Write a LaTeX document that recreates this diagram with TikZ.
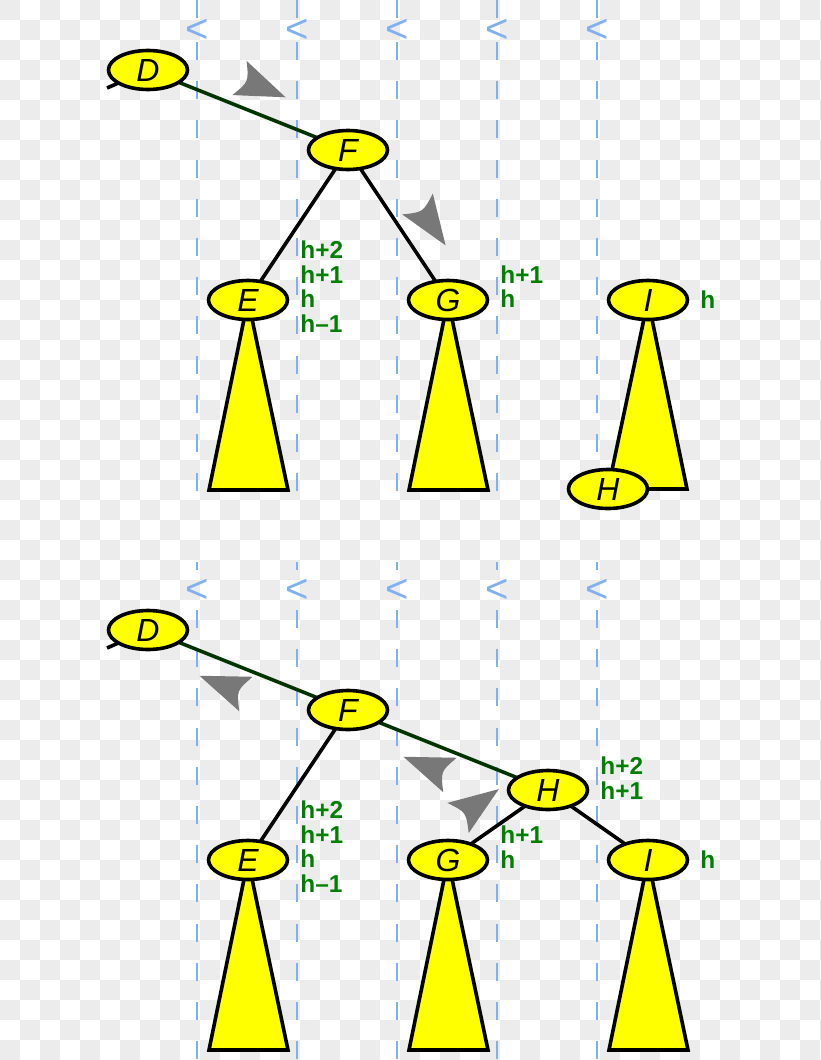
\documentclass[tikz,border=0pt]{standalone}
\usepackage{fontspec}
\setmainfont{Liberation Sans}
\usetikzlibrary{shapes.geometric}
\definecolor{chk}{RGB}{236,236,236}
\definecolor{dashblue}{RGB}{128,176,240}
\definecolor{treeyellow}{RGB}{255,255,0}
\definecolor{edgegreen}{RGB}{0,51,0}
\definecolor{labgreen}{RGB}{0,128,0}
\definecolor{arrowgray}{RGB}{120,120,120}
\pgfdeclarelayer{bg}
\pgfsetlayers{bg,main}
\tikzset{
 vnode/.style={ellipse, draw=black, fill=treeyellow, line width=1.8pt, minimum width=39.5pt, minimum height=19.5pt, inner sep=0pt, font=\fontsize{16}{16}\selectfont\itshape},
 subtree/.style={draw=black, fill=treeyellow, line width=1.8pt, line join=miter},
 blackedge/.style={draw=black, line width=1.8pt},
 greenedge/.style={draw=edgegreen, line width=1.8pt},
 guide/.style={draw=dashblue, line width=1pt, dash pattern=on 9pt off 10.6pt},
 guidesolid/.style={draw=dashblue, line width=1pt},
 ltmark/.style={text=dashblue, font=\fontsize{20}{20}\selectfont, inner sep=0pt},
 hlab/.style={text=labgreen, font=\fontsize{12.2}{12}\selectfont\bfseries, anchor=base west, inner sep=0pt},
 rotmark/.style={fill=arrowgray},
}
\newcommand{\rotmarker}[3]{\fill[rotmark, shift={(#1,#2)}, rotate=#3] (50,0) -- (0,18.5) .. controls (10,0) .. (0,-18.5) -- cycle;}
\begin{document}
\begin{tikzpicture}[x=0.5pt,y=-0.5pt]
\useasboundingbox (0,0) rectangle (820,1060);
\begin{pgfonlayer}{bg}
\fill[white] (0,0) rectangle (820,1060);
\foreach \j in {0,...,52} {
  \foreach \i in {0,2,...,40} {
    \fill[chk] ({20*\i+20*mod(\j,2)},{20*\j}) rectangle ++(20,20);
  }
}
\foreach \x in {197,297,397,497,597} {
  \draw[guidesolid] (\x,0) -- (\x,18);
  \draw[guide] (\x,42) -- (\x,497);
  \draw[guidesolid] (\x,562) -- (\x,570);
  \draw[guide] (\x,610) -- (\x,1060);
}
\end{pgfonlayer}
\foreach \x in {197,297,397,497,597} {
  \node[ltmark] (ltt\x) at (\x,31) {<};
  \node[ltmark] (ltb\x) at (\x,591) {<};
}
% top panel
\node[vnode] (D1) at (148,70) {D};
\node[vnode] (F1) at (348,150) {F};
\node[vnode] (E1) at (248,300) {E};
\node[vnode] (G1) at (448,300) {G};
\node[vnode] (I1) at (648,300) {I};
\node[vnode] (H1) at (608,489) {H};
\coordinate (Dp1) at (107,88);
% bottom panel
\node[vnode] (D2) at (148,630) {D};
\node[vnode] (F2) at (348,710) {F};
\node[vnode] (H2) at (548,790) {H};
\node[vnode] (E2) at (248,860) {E};
\node[vnode] (G2) at (448,860) {G};
\node[vnode] (I2) at (648,860) {I};
\coordinate (Dp2) at (107,648);
\begin{pgfonlayer}{bg}
\draw[subtree] (E1.center) -- ++(-39,190) -- ++(79,0) -- cycle;
\draw[subtree] (G1.center) -- ++(-39,190) -- ++(79,0) -- cycle;
\draw[subtree] (I1.center) -- (H1.center) -- ++(79,0) -- cycle;
\draw[subtree] (E2.center) -- ++(-39,190) -- ++(79,0) -- cycle;
\draw[subtree] (G2.center) -- ++(-39,190) -- ++(79,0) -- cycle;
\draw[subtree] (I2.center) -- ++(-39,190) -- ++(79,0) -- cycle;
\draw[blackedge] (D1.center) -- (Dp1);
\draw[greenedge] (D1.center) -- (F1.center);
\draw[blackedge] (F1.center) -- (E1.center);
\draw[blackedge] (F1.center) -- (G1.center);
\draw[blackedge] (D2.center) -- (Dp2);
\draw[greenedge] (D2.center) -- (F2.center);
\draw[greenedge] (F2.center) -- (H2.center);
\draw[blackedge] (F2.center) -- (E2.center);
\draw[blackedge] (H2.center) -- (G2.center);
\draw[blackedge] (H2.center) -- (I2.center);
\end{pgfonlayer}
% rotation markers
\rotmarker{239.5}{78}{-22.7}
\rotmarker{417.5}{204}{-55.8}
\rotmarker{246}{694}{158.6}
\rotmarker{450}{775}{158.6}
\rotmarker{458}{818}{35.3}
% height labels, top
\node[hlab] (la1) at (300,258) {h+2};
\node[hlab] (la2) at (300,283) {h+1};
\node[hlab] (la3) at (300,307) {h};
\node[hlab] (la4) at (300,332) {h–1};
\node[hlab] (la5) at (500,283) {h+1};
\node[hlab] (la6) at (500,307) {h};
\node[hlab] (la7) at (700,308) {h};
% height labels, bottom
\node[hlab] (lb1) at (300,818) {h+2};
\node[hlab] (lb2) at (300,843) {h+1};
\node[hlab] (lb3) at (300,867) {h};
\node[hlab] (lb4) at (300,892) {h–1};
\node[hlab] (lb5) at (500,843) {h+1};
\node[hlab] (lb6) at (500,868) {h};
\node[hlab] (lb7) at (700,868) {h};
\node[hlab] (lb8) at (600,774) {h+2};
\node[hlab] (lb9) at (600,799) {h+1};
\end{tikzpicture}
\end{document}
